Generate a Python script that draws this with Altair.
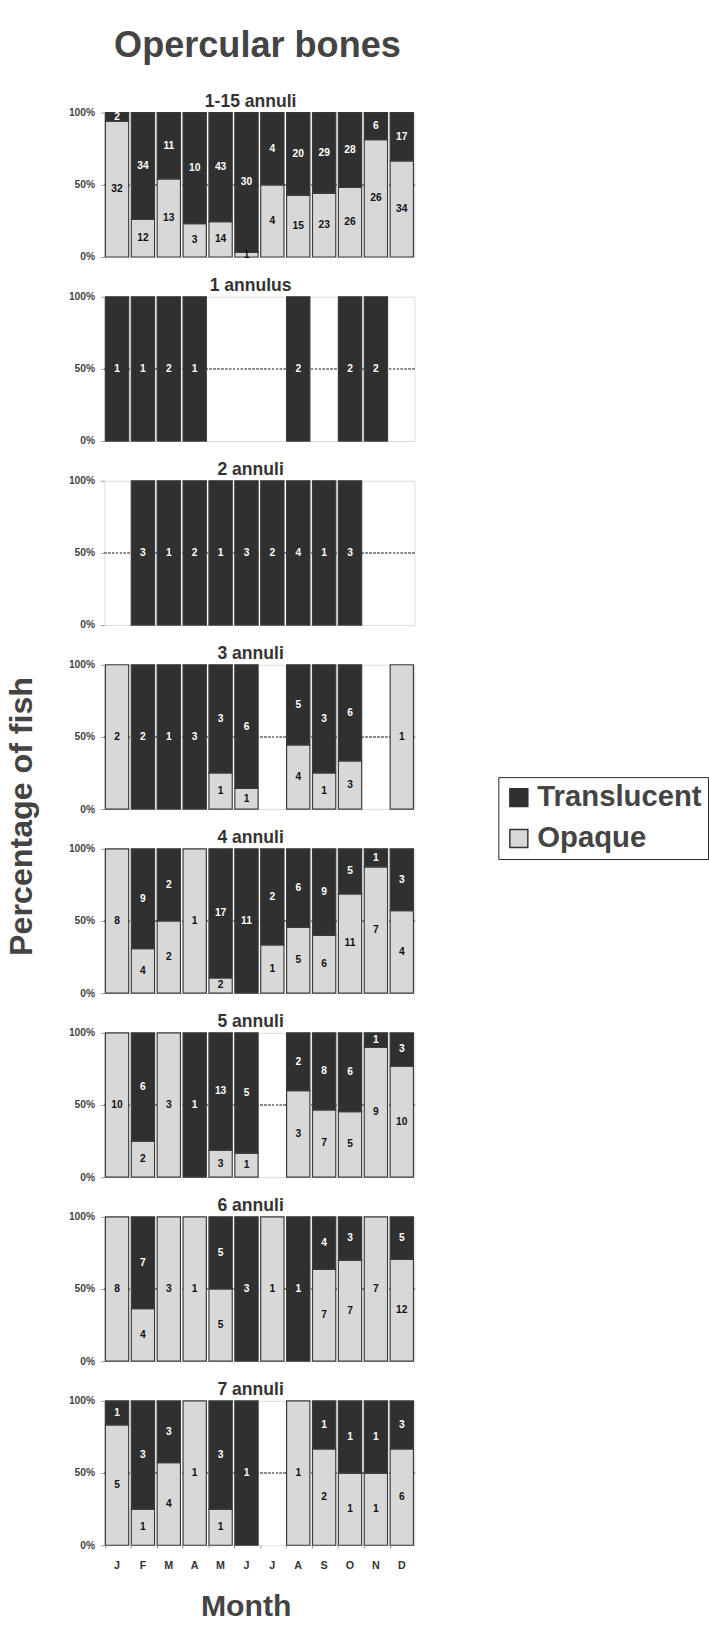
import altair as alt
import pandas as pd

title_text = ["Opercular bones"]
months = ["Jan", "Feb", "Mar", "Apr", "May", "Jun", "Jul", "Aug", "Sep", "Oct", "Nov", "Dec"]
panels = ["1-15 annuli", "1 annulus", "2 annuli", "3 annuli", "4 annuli", "5 annuli", "6 annuli", "7 annuli"]

# counts of fish per month; None = month not sampled
opaque = {
    "1-15 annuli": [32, 12, 13, 3, 14, 1, 4, 15, 23, 26, 26, 34],
    "1 annulus":   [0, 0, 0, 0, None, None, None, 0, None, 0, 0, None],
    "2 annuli":    [None, 0, 0, 0, 0, 0, 0, 0, 0, 0, None, None],
    "3 annuli":    [2, 0, 0, 0, 1, 1, None, 4, 1, 3, None, 1],
    "4 annuli":    [8, 4, 2, 1, 2, 0, 1, 5, 6, 11, 7, 4],
    "5 annuli":    [10, 2, 3, 0, 3, 1, None, 3, 7, 5, 9, 10],
    "6 annuli":    [8, 4, 3, 1, 5, 0, 1, 0, 7, 7, 7, 12],
    "7 annuli":    [5, 1, 4, 1, 1, 0, None, 1, 2, 1, 1, 6],
}
translucent = {
    "1-15 annuli": [2, 34, 11, 10, 43, 30, 4, 20, 29, 28, 6, 17],
    "1 annulus":   [1, 1, 2, 1, None, None, None, 2, None, 2, 2, None],
    "2 annuli":    [None, 3, 1, 2, 1, 3, 2, 4, 1, 3, None, None],
    "3 annuli":    [0, 2, 1, 3, 3, 6, None, 5, 3, 6, None, 0],
    "4 annuli":    [0, 9, 2, 0, 17, 11, 2, 6, 9, 5, 1, 3],
    "5 annuli":    [0, 6, 0, 1, 13, 5, None, 2, 8, 6, 1, 3],
    "6 annuli":    [0, 7, 0, 0, 5, 3, 0, 1, 4, 3, 0, 5],
    "7 annuli":    [1, 3, 3, 0, 3, 1, None, 0, 1, 1, 1, 3],
}

rows = []
for p in panels:
    for i, m in enumerate(months):
        o, t = opaque[p][i], translucent[p][i]
        if o is None or t is None:
            continue
        n = o + t
        po = 100.0 * o / n
        if o > 0:
            rows.append(dict(panel=p, month=m, type="Opaque", count=o,
                             y0=0.0, y1=po, mid=po / 2, labcol="#111111"))
        if t > 0:
            rows.append(dict(panel=p, month=m, type="Translucent", count=t,
                             y0=po, y1=100.0, mid=(po + 100.0) / 2, labcol="#ffffff"))
df = pd.DataFrame(rows)

FONT = "Liberation Sans"
W, H = 318, 148
xscale = alt.Scale(domain=months, paddingInner=0.1, paddingOuter=0.04)
yscale = alt.Scale(domain=[0, 100], nice=False)
cscale = alt.Scale(domain=["Translucent", "Opaque"], range=["#303030", "#d8d8d8"])


def make_panel(idx, name):
    last = idx == len(panels) - 1
    d = df[df.panel == name]
    if last:
        xaxis = alt.Axis(title="Month", labelExpr="substring(datum.label, 0, 1)",
                         labelAngle=0, labelFontSize=11, labelFontWeight="bold",
                         labelColor="#333", labelPadding=12, ticks=True, tickSize=3,
                         tickColor="#999", domain=False, titleFontSize=31,
                         titleFontWeight="bold", titleColor="#444", titlePadding=22,
                         titleX=145, bandPosition=0)
    else:
        xaxis = None
    common = dict(values=[0, 50, 100], labelExpr="datum.value + '%'",
                  labelFontSize=10.5, labelFontWeight="bold", labelColor="#444",
                  labelPadding=6, grid=False, domain=False, tickSize=4, tickColor="#999")
    if name == "3 annuli":
        yaxis = alt.Axis(title="Percentage of fish", titleFontSize=33,
                         titleFontWeight="bold", titleColor="#444", titleAngle=270,
                         titleX=-75, titleY=155, titleBaseline="alphabetic", **common)
    else:
        yaxis = alt.Axis(title=None, **common)

    rule = alt.Chart(d).mark_rule(strokeDash=[2, 2], color="#8a8a8a", strokeWidth=1.2).encode(
        y=alt.datum(50, scale=yscale, axis=yaxis)
    )
    bars = alt.Chart(d).mark_bar(stroke="#3a3a3a", strokeWidth=1.2).encode(
        x=alt.X("month:N", sort=months, scale=xscale, axis=xaxis),
        y=alt.Y("y0:Q", scale=yscale, axis=yaxis),
        y2="y1:Q",
        color=alt.Color("type:N", scale=cscale,
                        legend=alt.Legend(title=None, orient="none", legendX=404, legendY=775,
                                          direction="vertical", strokeColor="#222",
                                          fillColor="white", padding=6,
                                          labelFontSize=30, labelFontWeight="bold",
                                          labelColor="#444", labelFont=FONT, labelLimit=400,
                                          symbolType="square", symbolSize=340,
                                          symbolStrokeColor="#333", symbolStrokeWidth=1.5,
                                          rowPadding=12, labelOffset=4)),
    )
    text = alt.Chart(d).mark_text(fontSize=10.5, fontWeight="bold", font=FONT).encode(
        x=alt.X("month:N", sort=months, scale=xscale),
        y=alt.Y("mid:Q", scale=yscale),
        text="count:Q",
        color=alt.Color("labcol:N", scale=None),
    )
    return alt.layer(rule, bars, text).properties(
        width=W, height=H,
        title=alt.TitleParams(name, fontSize=18, fontWeight="bold", color="#333",
                              font=FONT, offset=-3, dx=-9),
    )


heading = alt.Chart(pd.DataFrame({"t": title_text})).mark_text(
    fontSize=37, fontWeight="bold", color="#444", font=FONT, align="center",
    baseline="alphabetic"
).encode(
    text="t:N", x=alt.value(157), y=alt.value(37)
).properties(width=W, height=52.3, view=alt.ViewBackground(stroke="transparent"))

chart = alt.vconcat(heading, *[make_panel(i, p) for i, p in enumerate(panels)],
                    spacing=40.7, bounds="flush").resolve_scale(
    color="shared"
).properties(
    padding={"left": 5, "top": 0, "right": 0, "bottom": 0},
).configure_view(
    stroke="#555", strokeWidth=1.5
).configure(font=FONT)

chart.save("out.html", embed_options={"renderer": "svg", "actions": False})
